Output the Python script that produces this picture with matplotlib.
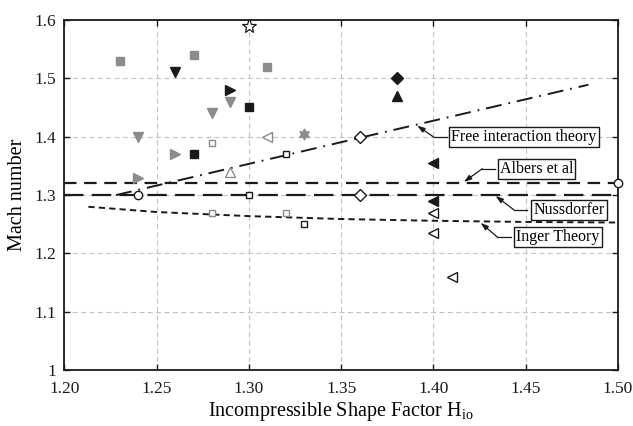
import matplotlib
matplotlib.use("Agg")
import matplotlib.pyplot as plt

plt.rcParams["font.family"] = ["Liberation Serif", "DejaVu Serif"]
plt.rcParams["mathtext.fontset"] = "custom"
plt.rcParams["mathtext.rm"] = "Liberation Serif"
plt.rcParams["mathtext.it"] = "Liberation Serif:italic"
plt.rcParams["lines.scale_dashes"] = False

BLACK = "#1a1a1a"
GRAY = "#8c8c8c"

# ---- experimental data: (shape factor H_io, Mach number) ----
gray_sq_x = [1.23, 1.27, 1.31]
gray_sq_y = [1.53, 1.54, 1.52]
black_down_x = [1.26]
black_down_y = [1.51]
black_right_x = [1.29]
black_right_y = [1.48]
gray_down_x = [1.29, 1.28, 1.24]
gray_down_y = [1.46, 1.44, 1.40]
black_sq_x = [1.30, 1.27]
black_sq_y = [1.45, 1.37]
gray_open_sq_x = [1.28, 1.28, 1.32]
gray_open_sq_y = [1.39, 1.27, 1.27]
gray_right_x = [1.26, 1.24]
gray_right_y = [1.37, 1.33]
star_x = [1.30]
star_y = [1.59]
black_diam_x = [1.38]
black_diam_y = [1.50]
black_up_x = [1.38]
black_up_y = [1.47]
gray_open_left_x = [1.31]
gray_open_left_y = [1.40]
gray_hex_x = [1.33]
gray_hex_y = [1.405]
open_sq_x = [1.32, 1.30, 1.33]
open_sq_y = [1.37, 1.30, 1.25]
open_diam_x = [1.36, 1.36]
open_diam_y = [1.40, 1.30]
gray_open_up_x = [1.29]
gray_open_up_y = [1.34]
open_circ_x = [1.24, 1.50]
open_circ_y = [1.30, 1.32]
black_left_x = [1.40, 1.40]
black_left_y = [1.355, 1.29]
open_left_x = [1.40, 1.40, 1.41]
open_left_y = [1.27, 1.235, 1.16]

# ---- theory / correlation curves ----
free_x = [1.228, 1.36, 1.484]
free_y = [1.300, 1.398, 1.489]
albers_x = [1.20, 1.50]
albers_y = [1.32, 1.32]
nuss_x = [1.20, 1.50]
nuss_y = [1.30, 1.30]
inger_x = [1.213, 1.25, 1.30, 1.35, 1.40, 1.45, 1.50]
inger_y = [1.280, 1.271, 1.264, 1.259, 1.256, 1.254, 1.253]

x_ticks = [1.20, 1.25, 1.30, 1.35, 1.40, 1.45, 1.50]
x_tick_labels = ["1.20", "1.25", "1.30", "1.35", "1.40", "1.45", "1.50"]
y_ticks = [1.0, 1.1, 1.2, 1.3, 1.4, 1.5, 1.6]
y_tick_labels = ["1", "1.1", "1.2", "1.3", "1.4", "1.5", "1.6"]

fig = plt.figure(figsize=(6.33, 4.26), dpi=100)
ax = fig.add_axes([0.1017, 0.1308, 0.8745, 0.8225])

# curves
ax.plot(free_x, free_y, color=BLACK, lw=1.4, dashes=(11.5, 5.0, 1.3, 5.0), zorder=2)
ax.plot(albers_x, albers_y, color=BLACK, lw=1.6, dashes=(9.0, 5.5), zorder=2)
ax.plot(nuss_x, nuss_y, color=BLACK, lw=1.6, dashes=(14.0, 6.0), zorder=2)
ax.plot(inger_x, inger_y, color=BLACK, lw=1.4, dashes=(4.5, 3.0), zorder=2)

def pts(x, y, marker, face, edge, ms, mew=1.0, clip=True):
    ax.plot(x, y, linestyle="none", marker=marker, markerfacecolor=face,
            markeredgecolor=edge, markersize=ms, markeredgewidth=mew,
            zorder=4, clip_on=clip)

pts(gray_sq_x, gray_sq_y, "s", GRAY, GRAY, 5.8)
pts(black_down_x, black_down_y, "v", BLACK, BLACK, 7.5)
pts(black_right_x, black_right_y, ">", BLACK, BLACK, 7.5)
pts(gray_down_x, gray_down_y, "v", GRAY, GRAY, 7.5)
pts(black_sq_x, black_sq_y, "s", BLACK, BLACK, 5.8)
pts(gray_open_sq_x, gray_open_sq_y, "s", "white", GRAY, 5.0)
pts(gray_right_x, gray_right_y, ">", GRAY, GRAY, 7.5)
pts(star_x, star_y, "*", "white", BLACK, 11.0, mew=0.9)
pts(black_diam_x, black_diam_y, "D", BLACK, BLACK, 6.0)
pts(black_up_x, black_up_y, "^", BLACK, BLACK, 7.5)
pts(gray_open_left_x, gray_open_left_y, "<", "white", GRAY, 7.0)
pts(gray_hex_x, gray_hex_y, (6, 1, 0), GRAY, GRAY, 8.0)
pts(open_sq_x, open_sq_y, "s", "white", BLACK, 5.0)
pts(open_diam_x, open_diam_y, "D", "white", BLACK, 6.0)
pts(gray_open_up_x, gray_open_up_y, "^", "white", GRAY, 7.0)
pts(open_circ_x, open_circ_y, "o", "white", BLACK, 6.0, clip=False)
pts(black_left_x, black_left_y, "<", BLACK, BLACK, 7.5)
pts(open_left_x, open_left_y, "<", "white", BLACK, 7.0)

# labelled call-outs: box text, horizontal leader, then arrow to the curve
callouts = [
    ("Free interaction theory", (1.4491, 1.3992), (1.4075, 1.4002), (1.3912, 1.4190)),
    ("Albers et al", (1.4558, 1.3452), (1.4335, 1.4265), (1.4165, 1.3225)),
    ("Nussdorfer", (1.4735, 1.2748), (1.4505, 1.4436), (1.4337, 1.2985)),
    ("Inger Theory", (1.4675, 1.2282), (1.4423, 1.4346), (1.4256, 1.2525)),
]
for label, (tx, ty), (edge_x, corner_x), (px, py) in callouts:
    ax.text(tx, ty, label, ha="center", va="center", fontsize=11.5, zorder=6,
            bbox=dict(boxstyle="square,pad=0.12", facecolor="white",
                      edgecolor=BLACK, linewidth=1.0))
    ax.plot([edge_x, corner_x], [ty, ty], color=BLACK, lw=0.9, zorder=5)
    ax.annotate("", xy=(px, py), xytext=(corner_x, ty), zorder=5,
                arrowprops=dict(arrowstyle="-|>,head_length=0.45,head_width=0.15",
                                color=BLACK, lw=0.9, shrinkA=0, shrinkB=0))

ax.set_xlim(1.20, 1.50)
ax.set_ylim(1.0, 1.6)
ax.set_xticks(x_ticks)
ax.set_xticklabels(x_tick_labels)
ax.set_yticks(y_ticks)
ax.set_yticklabels(y_tick_labels)
ax.tick_params(direction="in", top=True, right=True, length=4, width=1.0,
               labelsize=12.5, colors=BLACK)
ax.tick_params(axis="x", pad=8)
ax.tick_params(axis="y", pad=6)
ax.grid(True, color="#c4c4c4", lw=0.8, dashes=(3.6, 2.4))
ax.set_axisbelow(True)
for s in ax.spines.values():
    s.set_linewidth(1.3)
    s.set_color(BLACK)

ax.set_xlabel(r"Incompressible Shape Factor H$_{\mathregular{io}}$", fontsize=14.5, labelpad=2)
ax.set_ylabel("Mach number", fontsize=14.5, labelpad=5)

fig.savefig("out.png", dpi=100)
